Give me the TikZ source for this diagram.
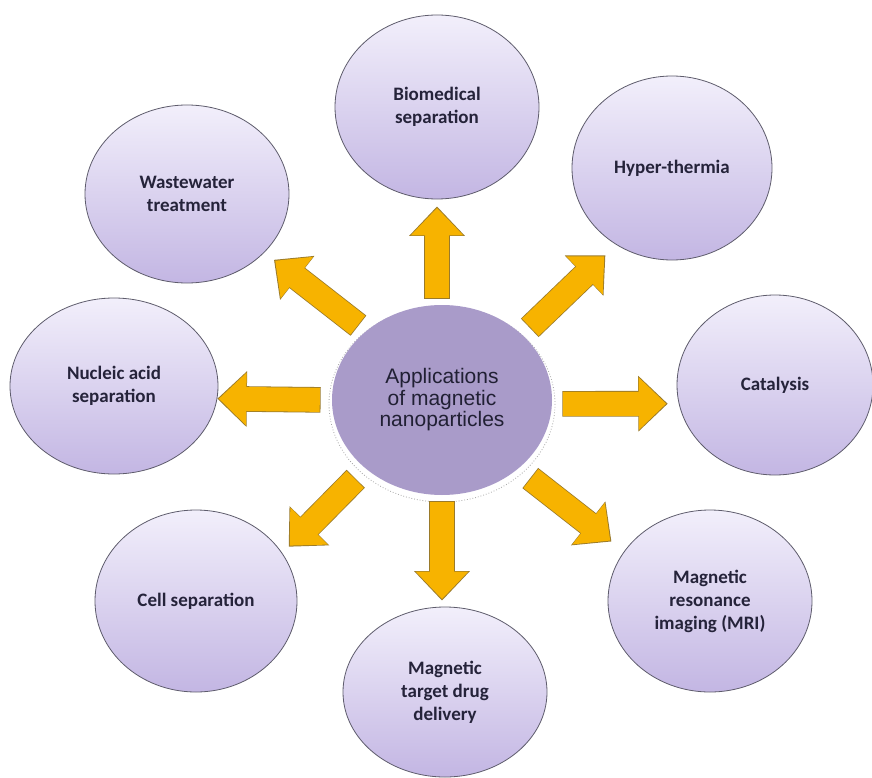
\documentclass[tikz,border=0pt]{standalone}
\usepackage{fontspec}
\setmainfont{Carlito}
\newfontfamily\ctrfont{Liberation Sans}
\usetikzlibrary{shapes.geometric,arrows.meta,calc}
\definecolor{outtop}{HTML}{F2EFFB}
\definecolor{outbot}{HTML}{C3B6E3}
\definecolor{ctrfill}{HTML}{A99BC9}
\definecolor{edgecol}{HTML}{5E5C6C}
\definecolor{txtcol}{HTML}{25233A}
\definecolor{arrfill}{HTML}{F7B300}
\definecolor{arrline}{HTML}{9A7A2A}
\tikzset{
  appl/.style={ellipse, inner sep=0pt, draw=edgecol, line width=0.8pt,
    top color=outtop, bottom color=outbot, align=center, text=txtcol,
    font=\bfseries\fontsize{19}{23}\selectfont},
  hub/.style={ellipse, inner sep=0pt, fill=ctrfill, align=center, text=txtcol!90!black,
    font=\ctrfont\fontsize{21}{21.5}\selectfont},
  hubring/.style={dotted, line width=0.8pt, draw=gray!70},
  arrout/.style={line width=25.6pt, draw=arrline, -{Triangle[width=54pt,length=29.5pt]}},
  arrin/.style={line width=24pt, draw=arrfill, -{Triangle[width=51pt,length=27.5pt]}},
}
\newcommand\blockarrow[4]{%
  \draw[arrout, shorten <={(#3-0.8)*1pt}, shorten >={(#4-1)*1pt}] (#1) -- (#2);
  \draw[arrin, shorten <={#3*1pt}, shorten >={(#4+0.5)*1pt}] (#1) -- (#2);}
\begin{document}
\begin{tikzpicture}[x=1pt,y=-1pt]
\fill[white] (0,0) rectangle (872,778);
\useasboundingbox (0,0) rectangle (872,778);
\draw[hubring] (442,404) ellipse [x radius=113, y radius=98];
\node[hub, minimum width=220pt, minimum height=190pt] (c) at (442,400) {Applications\\of magnetic\\nanoparticles};
\node[appl, minimum width=204pt, minimum height=184pt] (bio) at (437,107) {Biomedical\\separation};
\node[appl, minimum width=200pt, minimum height=184pt] (hyp) at (672,168) {Hyper-thermia};
\node[appl, minimum width=196pt, minimum height=180pt] (cat) at (775,385) {Catalysis};
\node[appl, minimum width=204pt, minimum height=182pt] (mri) at (710,601) {Magnetic\\resonance\\imaging (MRI)};
\node[appl, minimum width=204pt, minimum height=170pt] (drug) at (445,692) {Magnetic\\target drug\\delivery};
\node[appl, minimum width=202pt, minimum height=182pt] (cell) at (196,601) {Cell separation};
\node[appl, minimum width=208pt, minimum height=176pt] (nuc) at (114,386) {Nucleic acid\\separation};
\node[appl, minimum width=204pt, minimum height=178pt] (waste) at (187,194) {Wastewater\\treatment};
\blockarrow{c.north -| bio.south}{bio.south}{7}{8}
\blockarrow{c.south}{c.south |- drug.north}{7}{7}
\blockarrow{c.-2.6}{cat.191.5}{11}{12}
\blockarrow{c.180.5}{nuc.-7}{12}{1}
\blockarrow{c.138}{waste.-37}{10}{13}
\blockarrow{c.39}{hyp.234}{11}{16}
\blockarrow{c.222.3}{cell.29.4}{15}{10}
\blockarrow{c.-42.3}{mri.150.4}{16}{17}
\end{tikzpicture}
\end{document}
